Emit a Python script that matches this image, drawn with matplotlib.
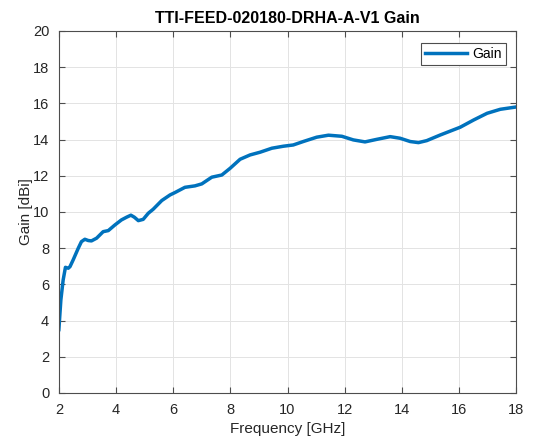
import matplotlib.pyplot as plt

plt.rcParams["font.family"] = ["Liberation Sans", "DejaVu Sans"]

# Gain curve
freq_ghz = [2.0, 2.07, 2.15, 2.23, 2.33, 2.39, 2.5, 2.68, 2.79, 2.91, 3.03,
            3.14, 3.32, 3.55, 3.73, 3.96, 4.19, 4.37, 4.52, 4.64, 4.78, 4.95,
            5.13, 5.30, 5.60, 5.89, 6.06, 6.41, 6.76, 7.0, 7.35, 7.70, 7.99,
            8.34, 8.69, 9.04, 9.45, 9.85, 10.2, 10.55, 11.02, 11.43, 11.90,
            12.30, 12.71, 13.12, 13.59, 13.94, 14.29, 14.58, 14.87, 15.34,
            16.04, 16.51, 16.98, 17.44, 18.0]
gain_dbi = [3.5, 5.14, 6.24, 6.94, 6.89, 6.98, 7.35, 8.0, 8.36, 8.49, 8.42,
            8.40, 8.55, 8.91, 8.97, 9.28, 9.56, 9.71, 9.82, 9.71, 9.52, 9.59,
            9.93, 10.15, 10.63, 10.94, 11.07, 11.36, 11.44, 11.55, 11.92,
            12.04, 12.41, 12.91, 13.15, 13.30, 13.52, 13.63, 13.70, 13.89,
            14.13, 14.24, 14.18, 13.98, 13.87, 14.01, 14.16, 14.07, 13.89,
            13.83, 13.94, 14.25, 14.68, 15.08, 15.45, 15.67, 15.8]

fig = plt.figure(figsize=(5.4, 4.42), dpi=100)
ax = fig.add_axes([0.109, 0.111, 0.847, 0.819])

ax.plot(freq_ghz, gain_dbi, color="#0072BD", linewidth=2.5, label="Gain")

ax.set_xlim(2, 18)
ax.set_ylim(0, 20)
ax.set_xticks(range(2, 19, 2))
ax.set_yticks(range(0, 21, 2))
ax.grid(True, color="#e3e3e3", linewidth=0.7)
ax.set_axisbelow(True)

for s in ax.spines.values():
    s.set_color("#4d4d4d")
    s.set_linewidth(0.8)
ax.tick_params(direction="in", top=True, right=True, length=4, pad=7,
               color="#4d4d4d", labelcolor="#262626", labelsize=10.5)

ax.set_xlabel("Frequency [GHz]", fontsize=11, color="#262626", labelpad=4)
ax.set_ylabel("Gain [dBi]", fontsize=11, color="#262626", labelpad=0)
ax.set_title("TTI-FEED-020180-DRHA-A-V1 Gain", fontsize=11.5,
             weight="bold", color="#000000", pad=6)

leg = ax.legend(loc="upper right", fontsize=10, fancybox=False,
                framealpha=1, edgecolor="#4d4d4d", handlelength=3.0,
                handletextpad=0.4, borderpad=0.3,
                bbox_to_anchor=(0.993, 0.987))
leg.get_frame().set_linewidth(0.8)

plt.savefig("out.png", dpi=100)
